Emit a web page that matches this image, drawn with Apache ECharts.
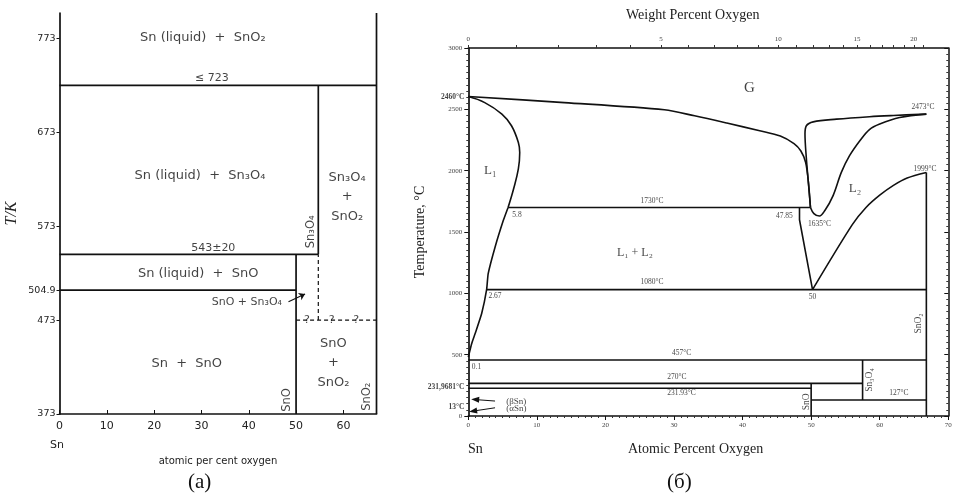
<!DOCTYPE html>
<html lang="en">
<head>
<meta charset="UTF-8">
<title>Sn-O phase diagrams</title>
<script src="https://cdn.jsdelivr.net/npm/echarts@6/dist/echarts.min.js"></script>
<style>html,body{margin:0;background:#fff}</style>
</head>
<body>
<div id="main" style="width:956px;height:502px"></div>
<script type="text/javascript">
// ---------- panel (a): T/K against atomic per cent oxygen
var aTicksY = [373, 473, 504.9, 573, 673, 773];
var aSolid = [
    [[0, 723], [67, 723]],
    [[0, 543], [54.7, 543]],
    [[54.7, 543], [54.7, 723]],
    [[0, 504.9], [50, 504.9]],
    [[50, 373], [50, 543]],
    [[67, 373], [67, 800]]
];
var aDashed = [
    [[54.7, 473], [54.7, 543]],
    [[50, 473], [67, 473]]
];
var aLabels = [
    ['Sn (liquid)  +  SnO₂', 30.3, 774],
    ['Sn (liquid)  +  Sn₃O₄', 29.7, 626.5],
    ['Sn₃O₄\n+\nSnO₂', 60.8, 604],
    ['Sn (liquid)  +  SnO', 29.3, 522.8],
    ['Sn  +  SnO', 26.9, 427],
    ['SnO\n+\nSnO₂', 57.9, 427.6]
];
var aSmall = [
    ['≤ 723', 32.2, 731],
    ['543±20', 32.5, 549.5],
    ['SnO + Sn₃O₄', 39.6, 492.6],
    ['?', 52.3, 473],
    ['?', 57.5, 473],
    ['?', 62.7, 473]
];
var aRotated = [
    ['Sn₃O₄', 53.2, 567],
    ['SnO', 48, 388],
    ['SnO₂', 64.9, 391.4]
];
var aArrow = [[48.4, 492.6], [51.9, 500.8]];

// ---------- panel (б): temperature against atomic percent oxygen
var wtTicks = [0, 5, 10, 15, 20];
var bGasLeft = [[0, 2604], [14, 2555], [28.6, 2496], [33, 2447], [37.7, 2388], [42.5, 2325], [45.5, 2282],
    [47.5, 2220], [48.5, 2160], [49.2, 2067], [49.6, 1905], [49.9, 1700]];
var bL1Upper = [[0, 2604], [2.4, 2555], [4.9, 2461], [6.3, 2366], [7.3, 2230], [7.5, 2149], [7.3, 2014],
    [6.6, 1851], [5.8, 1700]];
var bL1Lower = [[5.8, 1700], [5.1, 1593], [3.9, 1376], [2.9, 1160], [2.67, 1030], [1.95, 835], [1.0, 672],
    [0.5, 591], [0, 480]];
var bDewRight = [[49.9, 1700], [49.6, 1900], [49.3, 2100], [49.1, 2300], [49.3, 2366], [50.3, 2398],
    [53.7, 2420], [58.5, 2440], [62, 2450], [66.8, 2461]];
var bL2Liquidus = [[49.9, 1700], [50.4, 1650], [51.2, 1630], [52, 1675], [53.2, 1797], [54.4, 1986],
    [55.6, 2122], [57.1, 2244], [58.5, 2335], [60, 2380], [62.9, 2433], [66.8, 2461]];
var bL2Left = [[48.3, 1700], [48.3, 1600], [50.2, 1030]];
var bL2Right = [[50.2, 1030], [56, 1560], [58, 1700], [60, 1800], [62, 1880], [64, 1940], [66.8, 1985]];
var bIsotherms = [
    [[5.8, 1700], [49.9, 1700]],
    [[2.67, 1030], [66.8, 1030]],
    [[0, 457], [66.8, 457]],
    [[0, 266], [57.5, 266]],
    [[0, 226], [50, 226]],
    [[50, 130], [66.8, 130]],
    [[50, 0], [50, 266]],
    [[57.5, 130], [57.5, 457]],
    [[66.8, 0], [66.8, 1985]]
];
var bBig = [
    ['G', 41, 2675, 15],
    ['L₁', 3.2, 2000, 13],
    ['L₂', 56.4, 1854, 13],
    ['L₁ + L₂', 24.3, 1333, 12]
];
var bSmall = [
    ['1730°C', 26.8, 1756], ['5.8', 7.1, 1642], ['47.85', 46.1, 1628], ['1635°C', 51.2, 1569],
    ['2473°C', 66.3, 2515], ['1999°C', 66.6, 2014], ['2.67', 3.9, 976], ['1080°C', 26.8, 1089],
    ['50', 50.2, 970], ['457°C', 31.1, 510], ['0.1', 1.2, 401], ['270°C', 30.4, 320],
    ['231.93°C', 31.1, 185], ['127°C', 62.8, 185], ['(βSn)', 7.0, 116, 9], ['(αSn)', 7.0, 60, 9]
];
var bRotated = [['SnO₂', 65.6, 754], ['SnO', 49.3, 116], ['Sn₃O₄', 58.5, 293]];
var bAxisExtra = [['2460°C', 2604], ['231,9681°C', 238], ['13°C', 76]];
var bArrows = [
    [[3.9, 122], [1.0, 134]],
    [[3.9, 67], [0.7, 40]]
];

function wtToAt(w) {
    var o = w / 15.999, s = (100 - w) / 118.71;
    return o / (o + s) * 100;
}
var wtMinor = [];
for (var w = 0; w <= 21; w++) wtMinor.push(wtToAt(w));
var wtMajor = wtTicks.map(wtToAt);

var INK = '#111';
var series = [];
function addLine(pts, xi, yi, smooth, dashed, width) {
    series.push({
        type: 'line', xAxisIndex: xi, yAxisIndex: yi, data: pts, symbol: 'none',
        smooth: smooth || false, silent: true, animation: false,
        lineStyle: {color: INK, width: width || 1.6, type: dashed ? [4, 3] : 'solid'}
    });
}
function addText(list, xi, yi, font, size, rotate, extra) {
    series.push({
        type: 'scatter', xAxisIndex: xi, yAxisIndex: yi, symbolSize: 0, silent: true, animation: false,
        data: list.map(function (t) {
            return {name: t[0], value: [t[1], t[2]], label: t[3] ? {fontSize: t[3]} : undefined};
        }),
        label: Object.assign({
            show: true, position: 'inside', formatter: '{b}', color: '#111',
            fontFamily: font, fontSize: size, rotate: rotate || 0, lineHeight: size * 1.5
        }, extra || {})
    });
}

aSolid.forEach(function (s) { addLine(s, 0, 0, false, false, 1.7); });
aDashed.forEach(function (s) { addLine(s, 0, 0, false, true, 1.2); });
addText(aLabels, 0, 0, 'DejaVu Sans', 13);
addText(aSmall, 0, 0, 'DejaVu Sans', 11, 0, {backgroundColor: '#fff', padding: [0, 1]});
addText(aRotated, 0, 0, 'DejaVu Sans', 11.5, 90);
series.push({
    type: 'line', xAxisIndex: 0, yAxisIndex: 0, data: [], silent: true, animation: false,
    markLine: {
        silent: true, symbol: ['none', 'arrow'], symbolSize: 6, label: {show: false},
        lineStyle: {color: INK, width: 1.2, type: 'solid'},
        data: [[{coord: aArrow[0]}, {coord: aArrow[1]}]]
    }
});

addLine(bGasLeft, 1, 1, 0.3);
addLine(bL1Upper, 1, 1, 0.4);
addLine(bL1Lower, 1, 1, 0.15);
addLine(bDewRight, 1, 1, 0.35);
addLine(bL2Liquidus, 1, 1, 0.35);
addLine(bL2Left, 1, 1, false);
addLine(bL2Right, 1, 1, 0.3);
bIsotherms.forEach(function (s) { addLine(s, 1, 1, false, false, 1.6); });
addText(bBig, 1, 1, 'Liberation Serif', 13);
addText(bSmall, 1, 1, 'Liberation Serif', 7.5);
addText(bRotated, 1, 1, 'Liberation Serif', 9.5, 90);
series.push({
    type: 'scatter', xAxisIndex: 1, yAxisIndex: 1, symbolSize: 0, silent: true, animation: false,
    data: bAxisExtra.map(function (t) { return {name: t[0], value: [0, t[1]]}; }),
    label: {show: true, position: 'left', distance: 4, formatter: '{b}', color: '#111',
        fontFamily: 'Liberation Serif', fontSize: 7.5, fontWeight: 'bold'}
});
series.push({
    type: 'line', xAxisIndex: 1, yAxisIndex: 1, data: [], silent: true, animation: false,
    markLine: {
        silent: true, symbol: ['none', 'triangle'], symbolSize: [6, 8], label: {show: false},
        lineStyle: {color: INK, width: 1, type: 'solid'},
        data: bArrows.map(function (a) { return [{coord: a[0]}, {coord: a[1]}]; })
    }
});

var plain = function (v) { return String(v); };
var serifTick = {fontFamily: 'Liberation Serif', fontSize: 7, color: '#444', formatter: plain};

var myChart = echarts.init(document.getElementById('main'));
myChart.setOption({
    backgroundColor: '#fff',
    animation: false,
    grid: [
        {left: 59.5, top: 13, width: 317, height: 401, containLabel: false, outerBoundsMode: 'none'},
        {left: 468.3, top: 48, width: 480, height: 368, containLabel: false, outerBoundsMode: 'none'}
    ],
    xAxis: [
        {
            gridIndex: 0, type: 'value', min: 0, max: 67, interval: 10,
            axisLine: {show: true, onZero: false, lineStyle: {color: INK, width: 1.7}},
            axisTick: {show: true, inside: true, length: 4, lineStyle: {color: INK}},
            axisLabel: {showMaxLabel: false, fontFamily: 'DejaVu Sans', fontSize: 11, color: '#222', margin: 7},
            splitLine: {show: false},
            name: 'atomic per cent oxygen', nameLocation: 'middle', nameGap: 42,
            nameTextStyle: {fontFamily: 'DejaVu Sans', fontSize: 10, color: '#222'}
        },
        {
            gridIndex: 1, type: 'value', min: 0, max: 70, interval: 10,
            axisLine: {show: true, onZero: false, lineStyle: {color: INK, width: 1.7}},
            axisTick: {show: true, length: 4, lineStyle: {color: INK}},
            minorTick: {show: true, splitNumber: 10, length: 2, lineStyle: {color: '#333'}},
            axisLabel: Object.assign({margin: 6}, serifTick),
            splitLine: {show: false}
        },
        {
            gridIndex: 1, type: 'value', min: 0, max: 70, position: 'top',
            axisLine: {show: true, onZero: false, lineStyle: {color: INK, width: 1.5}},
            axisTick: {show: true, length: 3, customValues: wtMinor, lineStyle: {color: '#333'}},
            axisLabel: Object.assign({}, serifTick, {
                margin: 5, customValues: wtMajor,
                formatter: function (v) {
                    for (var i = 0; i < wtMajor.length; i++) {
                        if (Math.abs(wtMajor[i] - v) < 0.01) return String(wtTicks[i]);
                    }
                    return '';
                }
            }),
            splitLine: {show: false}
        }
    ],
    yAxis: [
        {
            gridIndex: 0, type: 'value', min: 373, max: 800,
            axisLine: {show: true, onZero: false, lineStyle: {color: INK, width: 1.7}},
            axisTick: {show: true, length: 3, customValues: aTicksY, lineStyle: {color: INK}},
            axisLabel: {customValues: aTicksY, formatter: plain, fontFamily: 'DejaVu Sans', fontSize: 9.5, color: '#222', margin: 4},
            splitLine: {show: false},
            name: 'T/K', nameLocation: 'middle', nameGap: 40, nameRotate: 90,
            nameTextStyle: {fontFamily: 'Liberation Serif', fontSize: 16, fontStyle: 'italic', color: '#222'}
        },
        {
            gridIndex: 1, type: 'value', min: 0, max: 3000, interval: 500,
            axisLine: {show: true, onZero: false, lineStyle: {color: INK, width: 1.7}},
            axisTick: {show: true, length: 4, lineStyle: {color: INK}},
            minorTick: {show: true, splitNumber: 10, length: 2, lineStyle: {color: '#333'}},
            axisLabel: Object.assign({margin: 6}, serifTick),
            splitLine: {show: false}
        },
        {
            gridIndex: 1, type: 'value', min: 0, max: 3000, interval: 500, position: 'right',
            axisLine: {show: true, onZero: false, lineStyle: {color: INK, width: 1.5}},
            axisTick: {show: true, length: 4, inside: true, lineStyle: {color: INK}},
            minorTick: {show: true, splitNumber: 10, length: 2, lineStyle: {color: '#333'}},
            axisLabel: {show: false},
            splitLine: {show: false}
        }
    ],
    graphic: [
        {type: 'text', left: 50, top: 440, style: {text: 'Sn', font: '11px "DejaVu Sans"', fill: '#222'}},
        {type: 'text', left: 188, top: 472, style: {text: '(a)', font: '21px "Liberation Serif"', fill: '#111'}},
        {type: 'text', left: 468, top: 442, style: {text: 'Sn', font: '14px "Liberation Serif"', fill: '#222'}},
        {type: 'text', left: 628, top: 442, style: {text: 'Atomic Percent Oxygen', font: '14px "Liberation Serif"', fill: '#222'}},
        {type: 'text', left: 626, top: 8, style: {text: 'Weight Percent Oxygen', font: '14px "Liberation Serif"', fill: '#222'}},
        {type: 'text', left: 667, top: 472, style: {text: '(б)', font: '21px "Liberation Serif"', fill: '#111'}},
        {type: 'text', x: 420, y: 232, rotation: Math.PI / 2,
            style: {text: 'Temperature, °C', font: '14px "Liberation Serif"', fill: '#222', align: 'center', verticalAlign: 'middle'}}
    ],
    series: series
});
</script>
</body>
</html>
